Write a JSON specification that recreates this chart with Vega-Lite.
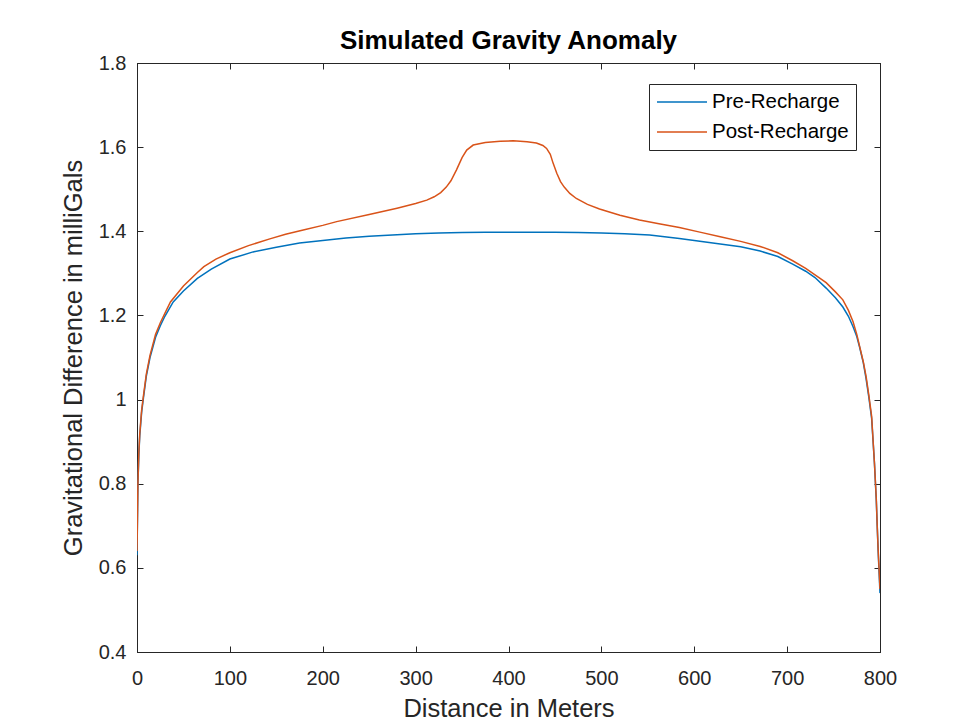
{
  "$schema": "https://vega.github.io/schema/vega-lite/v6.json",
  "width": 743,
  "height": 589,
  "autosize": {"type": "none"},
  "padding": {"left": 137, "top": 63, "right": 83, "bottom": 74},
  "background": "white",
  "title": {
    "text": "Simulated Gravity Anomaly",
    "font": "Liberation Sans",
    "fontSize": 26,
    "fontWeight": "bold",
    "color": "black",
    "anchor": "middle",
    "offset": -1
  },
  "data": {"values": [
    {"d":0,"v":0.63,"s":"Pre-Recharge"},{"d":1,"v":0.80,"s":"Pre-Recharge"},{"d":2,"v":0.87,"s":"Pre-Recharge"},{"d":3,"v":0.915,"s":"Pre-Recharge"},{"d":5,"v":0.97,"s":"Pre-Recharge"},{"d":7,"v":1.005,"s":"Pre-Recharge"},{"d":10,"v":1.055,"s":"Pre-Recharge"},{"d":14,"v":1.10,"s":"Pre-Recharge"},{"d":20,"v":1.148,"s":"Pre-Recharge"},{"d":25,"v":1.175,"s":"Pre-Recharge"},{"d":30,"v":1.198,"s":"Pre-Recharge"},{"d":39,"v":1.232,"s":"Pre-Recharge"},{"d":50,"v":1.258,"s":"Pre-Recharge"},{"d":65,"v":1.288,"s":"Pre-Recharge"},{"d":80,"v":1.310,"s":"Pre-Recharge"},{"d":100,"v":1.334,"s":"Pre-Recharge"},{"d":125,"v":1.351,"s":"Pre-Recharge"},{"d":150,"v":1.362,"s":"Pre-Recharge"},{"d":175,"v":1.372,"s":"Pre-Recharge"},{"d":200,"v":1.378,"s":"Pre-Recharge"},{"d":225,"v":1.384,"s":"Pre-Recharge"},{"d":250,"v":1.388,"s":"Pre-Recharge"},{"d":275,"v":1.391,"s":"Pre-Recharge"},{"d":300,"v":1.394,"s":"Pre-Recharge"},{"d":325,"v":1.396,"s":"Pre-Recharge"},{"d":350,"v":1.397,"s":"Pre-Recharge"},{"d":375,"v":1.398,"s":"Pre-Recharge"},{"d":400,"v":1.398,"s":"Pre-Recharge"},{"d":425,"v":1.398,"s":"Pre-Recharge"},{"d":450,"v":1.398,"s":"Pre-Recharge"},{"d":475,"v":1.397,"s":"Pre-Recharge"},{"d":500,"v":1.396,"s":"Pre-Recharge"},{"d":525,"v":1.394,"s":"Pre-Recharge"},{"d":552,"v":1.391,"s":"Pre-Recharge"},{"d":584,"v":1.383,"s":"Pre-Recharge"},{"d":600,"v":1.378,"s":"Pre-Recharge"},{"d":628,"v":1.370,"s":"Pre-Recharge"},{"d":650,"v":1.363,"s":"Pre-Recharge"},{"d":671,"v":1.353,"s":"Pre-Recharge"},{"d":690,"v":1.340,"s":"Pre-Recharge"},{"d":706,"v":1.322,"s":"Pre-Recharge"},{"d":720,"v":1.305,"s":"Pre-Recharge"},{"d":730,"v":1.290,"s":"Pre-Recharge"},{"d":742,"v":1.265,"s":"Pre-Recharge"},{"d":752,"v":1.242,"s":"Pre-Recharge"},{"d":760,"v":1.220,"s":"Pre-Recharge"},{"d":766,"v":1.198,"s":"Pre-Recharge"},{"d":771,"v":1.173,"s":"Pre-Recharge"},{"d":775,"v":1.150,"s":"Pre-Recharge"},{"d":778,"v":1.125,"s":"Pre-Recharge"},{"d":782,"v":1.088,"s":"Pre-Recharge"},{"d":785,"v":1.050,"s":"Pre-Recharge"},{"d":788,"v":1.005,"s":"Pre-Recharge"},{"d":791,"v":0.955,"s":"Pre-Recharge"},{"d":794,"v":0.85,"s":"Pre-Recharge"},{"d":796,"v":0.76,"s":"Pre-Recharge"},{"d":797,"v":0.70,"s":"Pre-Recharge"},{"d":798,"v":0.64,"s":"Pre-Recharge"},{"d":800,"v":0.54,"s":"Pre-Recharge"},
    {"d":0,"v":0.64,"s":"Post-Recharge"},{"d":1,"v":0.80,"s":"Post-Recharge"},{"d":2,"v":0.875,"s":"Post-Recharge"},{"d":3,"v":0.92,"s":"Post-Recharge"},{"d":5,"v":0.975,"s":"Post-Recharge"},{"d":7,"v":1.01,"s":"Post-Recharge"},{"d":10,"v":1.06,"s":"Post-Recharge"},{"d":14,"v":1.105,"s":"Post-Recharge"},{"d":20,"v":1.155,"s":"Post-Recharge"},{"d":25,"v":1.182,"s":"Post-Recharge"},{"d":30,"v":1.205,"s":"Post-Recharge"},{"d":36,"v":1.232,"s":"Post-Recharge"},{"d":50,"v":1.27,"s":"Post-Recharge"},{"d":65,"v":1.302,"s":"Post-Recharge"},{"d":72,"v":1.316,"s":"Post-Recharge"},{"d":85,"v":1.334,"s":"Post-Recharge"},{"d":100,"v":1.349,"s":"Post-Recharge"},{"d":120,"v":1.366,"s":"Post-Recharge"},{"d":143,"v":1.382,"s":"Post-Recharge"},{"d":160,"v":1.393,"s":"Post-Recharge"},{"d":179,"v":1.403,"s":"Post-Recharge"},{"d":200,"v":1.414,"s":"Post-Recharge"},{"d":215,"v":1.423,"s":"Post-Recharge"},{"d":250,"v":1.440,"s":"Post-Recharge"},{"d":280,"v":1.455,"s":"Post-Recharge"},{"d":300,"v":1.466,"s":"Post-Recharge"},{"d":312,"v":1.474,"s":"Post-Recharge"},{"d":320,"v":1.482,"s":"Post-Recharge"},{"d":327,"v":1.492,"s":"Post-Recharge"},{"d":333,"v":1.505,"s":"Post-Recharge"},{"d":338,"v":1.520,"s":"Post-Recharge"},{"d":344,"v":1.546,"s":"Post-Recharge"},{"d":350,"v":1.575,"s":"Post-Recharge"},{"d":355,"v":1.593,"s":"Post-Recharge"},{"d":362,"v":1.605,"s":"Post-Recharge"},{"d":375,"v":1.611,"s":"Post-Recharge"},{"d":391,"v":1.614,"s":"Post-Recharge"},{"d":405,"v":1.615,"s":"Post-Recharge"},{"d":420,"v":1.613,"s":"Post-Recharge"},{"d":430,"v":1.610,"s":"Post-Recharge"},{"d":437,"v":1.604,"s":"Post-Recharge"},{"d":441,"v":1.597,"s":"Post-Recharge"},{"d":445,"v":1.583,"s":"Post-Recharge"},{"d":448,"v":1.562,"s":"Post-Recharge"},{"d":452,"v":1.538,"s":"Post-Recharge"},{"d":456,"v":1.518,"s":"Post-Recharge"},{"d":460,"v":1.505,"s":"Post-Recharge"},{"d":466,"v":1.490,"s":"Post-Recharge"},{"d":473,"v":1.478,"s":"Post-Recharge"},{"d":485,"v":1.464,"s":"Post-Recharge"},{"d":498,"v":1.453,"s":"Post-Recharge"},{"d":520,"v":1.438,"s":"Post-Recharge"},{"d":541,"v":1.427,"s":"Post-Recharge"},{"d":562,"v":1.418,"s":"Post-Recharge"},{"d":584,"v":1.409,"s":"Post-Recharge"},{"d":606,"v":1.398,"s":"Post-Recharge"},{"d":628,"v":1.387,"s":"Post-Recharge"},{"d":650,"v":1.376,"s":"Post-Recharge"},{"d":671,"v":1.364,"s":"Post-Recharge"},{"d":690,"v":1.349,"s":"Post-Recharge"},{"d":706,"v":1.330,"s":"Post-Recharge"},{"d":720,"v":1.312,"s":"Post-Recharge"},{"d":742,"v":1.278,"s":"Post-Recharge"},{"d":752,"v":1.256,"s":"Post-Recharge"},{"d":760,"v":1.237,"s":"Post-Recharge"},{"d":766,"v":1.212,"s":"Post-Recharge"},{"d":771,"v":1.185,"s":"Post-Recharge"},{"d":775,"v":1.155,"s":"Post-Recharge"},{"d":778,"v":1.127,"s":"Post-Recharge"},{"d":782,"v":1.090,"s":"Post-Recharge"},{"d":785,"v":1.055,"s":"Post-Recharge"},{"d":788,"v":1.010,"s":"Post-Recharge"},{"d":791,"v":0.960,"s":"Post-Recharge"},{"d":794,"v":0.85,"s":"Post-Recharge"},{"d":796,"v":0.765,"s":"Post-Recharge"},{"d":797,"v":0.70,"s":"Post-Recharge"},{"d":798,"v":0.645,"s":"Post-Recharge"},{"d":800,"v":0.55,"s":"Post-Recharge"}
  ]},
  "layer": [
    {
      "mark": {"type": "line", "strokeWidth": 1.5, "clip": true},
      "encoding": {
        "x": {"field": "d", "type": "quantitative",
          "scale": {"domain": [0, 800], "nice": false, "zero": false},
          "axis": {"orient": "bottom", "values": [0,100,200,300,400,500,600,700,800], "title": "Distance in Meters", "labelPadding": 22, "titlePadding": 8, "labelFlush": false}},
        "y": {"field": "v", "type": "quantitative",
          "scale": {"domain": [0.4, 1.8], "nice": false, "zero": false},
          "axis": {"orient": "left", "values": [0.4,0.6,0.8,1,1.2,1.4,1.6,1.8], "format": "~g", "title": "Gravitational Difference in milliGals", "labelPadding": 17, "titlePadding": 12, "labelFlush": false}},
        "color": {"field": "s", "type": "nominal",
          "scale": {"domain": ["Pre-Recharge", "Post-Recharge"], "range": ["#0072BD", "#D95319"]},
          "legend": {"title": null, "orient": "none", "legendX": 512, "legendY": 21}},
        "detail": {"field": "s"}
      }
    },
    {
      "mark": {"type": "line", "opacity": 0},
      "encoding": {
        "x": {"field": "d", "type": "quantitative",
          "axis": {"orient": "top", "values": [0,100,200,300,400,500,600,700,800], "labels": false, "title": null}},
        "y": {"field": "v", "type": "quantitative",
          "axis": {"orient": "right", "values": [0.4,0.6,0.8,1,1.2,1.4,1.6,1.8], "labels": false, "title": null}},
        "detail": {"field": "s"}
      }
    }
  ],
  "resolve": {"axis": {"x": "independent", "y": "independent"}},
  "config": {
    "view": {"stroke": "#262626", "strokeWidth": 1},
    "font": "Liberation Sans",
    "axis": {
      "grid": false,
      "domainColor": "#262626",
      "domainWidth": 1,
      "tickColor": "#262626",
      "tickSize": -6,
      "tickWidth": 1,
      "labelColor": "#262626",
      "labelFont": "Liberation Sans",
      "labelFontSize": 20,
      "titleFont": "Liberation Sans",
      "titleFontSize": 25.5,
      "titleFontWeight": "normal",
      "titleColor": "#262626"
    },
    "legend": {
      "strokeColor": "#262626",
      "fillColor": "white",
      "padding": 7,
      "symbolType": "M-2.5,0H2.5",
      "symbolSize": 400,
      "symbolOffset": 15,
      "symbolStrokeWidth": 1.5,
      "labelFont": "Liberation Sans",
      "labelFontSize": 20.5,
      "labelColor": "black",
      "labelOffset": 19,
      "rowPadding": 8,
      "cornerRadius": 0
    }
  }
}
